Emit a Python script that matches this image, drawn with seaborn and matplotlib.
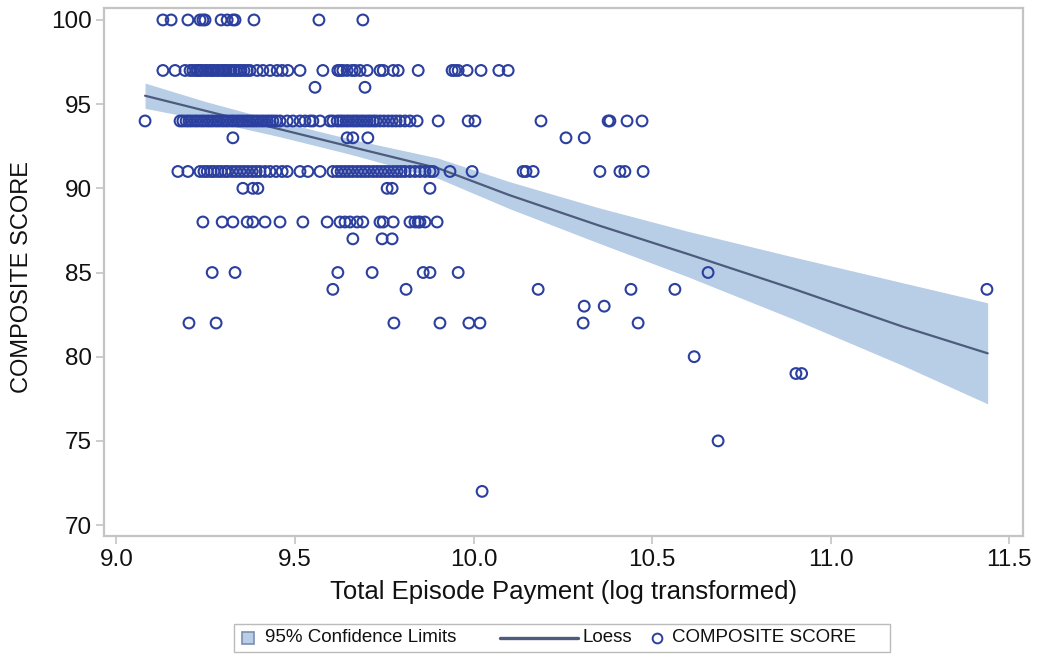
import matplotlib
matplotlib.use("Agg")
import matplotlib.pyplot as plt
import numpy as np
import pandas as pd
import seaborn as sns
from matplotlib.lines import Line2D
from matplotlib.patches import Rectangle

# Log-transformed total episode payment for each hospital, grouped by composite score
pay_100 = [9.130, 9.153, 9.200, 9.234, 9.242, 9.248, 9.293, 9.310, 9.326, 9.332,
           9.385, 9.567, 9.690]
pay_97 = [9.130, 9.164, 9.192, 9.206, 9.214, 9.223, 9.228, 9.234, 9.239, 9.248,
          9.254, 9.262, 9.268, 9.273, 9.282, 9.287, 9.296, 9.301, 9.307, 9.315,
          9.321, 9.329, 9.335, 9.343, 9.349, 9.357, 9.366, 9.374, 9.394, 9.410,
          9.430, 9.450, 9.464, 9.480, 9.514, 9.578, 9.620, 9.626, 9.634, 9.646,
          9.660, 9.668, 9.682, 9.702, 9.738, 9.747, 9.775, 9.789, 9.845, 9.940,
          9.948, 9.957, 9.982, 10.021, 10.071, 10.097]
pay_96 = [9.556, 9.696]
pay_94 = [9.080, 9.178, 9.186, 9.195, 9.203, 9.211, 9.220, 9.228, 9.237, 9.245,
          9.254, 9.262, 9.270, 9.279, 9.287, 9.296, 9.304, 9.312, 9.321, 9.329,
          9.338, 9.346, 9.354, 9.363, 9.371, 9.380, 9.388, 9.396, 9.405, 9.413,
          9.422, 9.430, 9.438, 9.447, 9.458, 9.478, 9.494, 9.514, 9.528, 9.542,
          9.550, 9.570, 9.598, 9.606, 9.618, 9.626, 9.634, 9.643, 9.651, 9.660,
          9.668, 9.676, 9.685, 9.693, 9.702, 9.710, 9.719, 9.727, 9.738, 9.749,
          9.761, 9.772, 9.783, 9.794, 9.808, 9.822, 9.842, 9.901, 9.985, 10.004,
          10.189, 10.377, 10.382, 10.430, 10.472]
pay_93 = [9.326, 9.646, 9.662, 9.704, 10.259, 10.310]
pay_91 = [9.172, 9.200, 9.234, 9.245, 9.254, 9.265, 9.273, 9.284, 9.293, 9.304,
          9.312, 9.324, 9.335, 9.346, 9.357, 9.368, 9.380, 9.391, 9.402, 9.416,
          9.430, 9.447, 9.464, 9.478, 9.514, 9.536, 9.570, 9.606, 9.618, 9.629,
          9.640, 9.651, 9.662, 9.674, 9.685, 9.696, 9.707, 9.719, 9.730, 9.741,
          9.752, 9.763, 9.775, 9.786, 9.797, 9.808, 9.822, 9.836, 9.850, 9.864,
          9.878, 9.887, 9.934, 9.996, 10.139, 10.147, 10.167, 10.354, 10.410,
          10.424, 10.475]
pay_90 = [9.354, 9.382, 9.396, 9.758, 9.772, 9.878]
pay_88 = [9.242, 9.296, 9.326, 9.366, 9.382, 9.416, 9.458, 9.522, 9.590, 9.626,
          9.640, 9.654, 9.674, 9.690, 9.738, 9.747, 9.775, 9.822, 9.836, 9.845,
          9.850, 9.864, 9.898]
pay_87 = [9.662, 9.744, 9.772]
pay_85 = [9.268, 9.332, 9.620, 9.716, 9.859, 9.878, 9.957, 10.657]
pay_84 = [9.606, 9.811, 10.181, 10.441, 10.564, 11.438]
pay_83 = [10.310, 10.366]
pay_82 = [9.203, 9.279, 9.777, 9.906, 9.987, 10.018, 10.307, 10.461]
pay_80 = [10.618]
pay_79 = [10.903, 10.919]
pay_75 = [10.685]
pay_72 = [10.024]

score_groups = [(100, pay_100), (97, pay_97), (96, pay_96), (94, pay_94),
                (93, pay_93), (91, pay_91), (90, pay_90), (88, pay_88),
                (87, pay_87), (85, pay_85), (84, pay_84), (83, pay_83),
                (82, pay_82), (80, pay_80), (79, pay_79), (75, pay_75),
                (72, pay_72)]

# Loess fit with its 95% confidence limits
loess_x = [9.08, 9.25, 9.45, 9.65, 9.90, 10.10, 10.35, 10.60, 10.90, 11.20, 11.44]
loess_fit = [95.5, 94.6, 93.55, 92.5, 91.2, 89.6, 87.8, 86.1, 84.0, 81.8, 80.2]
loess_lower = [94.75, 94.05, 93.1, 92.05, 90.6, 88.8, 86.75, 84.75, 82.2, 79.5, 77.2]
loess_upper = [96.25, 95.15, 94.0, 92.95, 91.8, 90.4, 88.85, 87.45, 85.9, 84.4, 83.2]

x_ticks = [9.0, 9.5, 10.0, 10.5, 11.0, 11.5]
y_ticks = [70, 75, 80, 85, 90, 95, 100]

df = pd.DataFrame(
    [(x, s) for s, xs in score_groups for x in xs],
    columns=["payment", "score"],
)

NAVY = "#2b3f9e"
LINE = "#4d5b7d"
BAND = "#b8cde6"
FRAME = "#c4c4c4"

sns.set_theme(style="white")
plt.rcParams["font.family"] = ["Liberation Sans", "DejaVu Sans"]

W, H = 1038, 654
fig = plt.figure(figsize=(W / 100, H / 100), dpi=100)
ax = fig.add_axes([104 / W, 1 - 536 / H, (1023 - 104) / W, (536 - 8) / H])

ax.fill_between(loess_x, loess_lower, loess_upper, color=BAND, lw=0, zorder=1)
sns.lineplot(x=loess_x, y=loess_fit, ax=ax, color=LINE, lw=1.6, zorder=2)
sns.scatterplot(data=df, x="payment", y="score", ax=ax, marker="o", s=60,
                facecolor="none", edgecolor=NAVY, linewidth=1.5, zorder=3)
ax.collections[-1].set_facecolor("none")

ax.set_xlim(8.965, 11.539)
ax.set_ylim(69.35, 100.71)
ax.set_xticks(x_ticks)
ax.set_xticklabels([f"{t:.1f}" for t in x_ticks])
ax.set_yticks(y_ticks)
ax.set_yticklabels([str(t) for t in y_ticks])

for sp in ax.spines.values():
    sp.set_visible(True)
    sp.set_color(FRAME)
    sp.set_linewidth(1.6)
ax.tick_params(direction="out", length=6, width=1.2, color=FRAME,
               labelsize=17.5, labelcolor="#111111", pad=3,
               bottom=True, left=True)

ax.set_xlabel("Total Episode Payment (log transformed)", fontsize=18.5,
              color="#111111", labelpad=7)
ax.set_ylabel("COMPOSITE SCORE", fontsize=17, color="#111111", labelpad=7)
ax.yaxis.set_label_coords(-0.077, 0.49)


def fx(px):
    return px / W


def fy(py):
    return 1 - py / H


# Legend strip below the plot
ly = fy(638)
fig.patches.append(Rectangle((fx(234), fy(652)), fx(890) - fx(234), fy(624) - fy(652),
                             transform=fig.transFigure, facecolor="white",
                             edgecolor="#bbbbbb", lw=1.0))
fig.patches.append(Rectangle((fx(242), fy(644)), fx(254) - fx(242), fy(632) - fy(644),
                             transform=fig.transFigure, facecolor=BAND,
                             edgecolor="#7c8fb0", lw=1.2))
fig.text(fx(265), ly, "95% Confidence Limits", fontsize=13.5, va="center",
         ha="left", color="#111111")
fig.lines.append(Line2D([fx(500), fx(578)], [ly, ly], transform=fig.transFigure,
                        color=LINE, lw=2.4))
fig.text(fx(582), ly, "Loess", fontsize=13.5, va="center", ha="left", color="#111111")
fig.lines.append(Line2D([fx(657)], [ly], transform=fig.transFigure, marker="o",
                        ms=7, mfc="none", mec=NAVY, mew=1.4, lw=0))
fig.text(fx(672), ly, "COMPOSITE SCORE", fontsize=13.5, va="center", ha="left",
         color="#111111")

fig.savefig("out.png", dpi=100)
